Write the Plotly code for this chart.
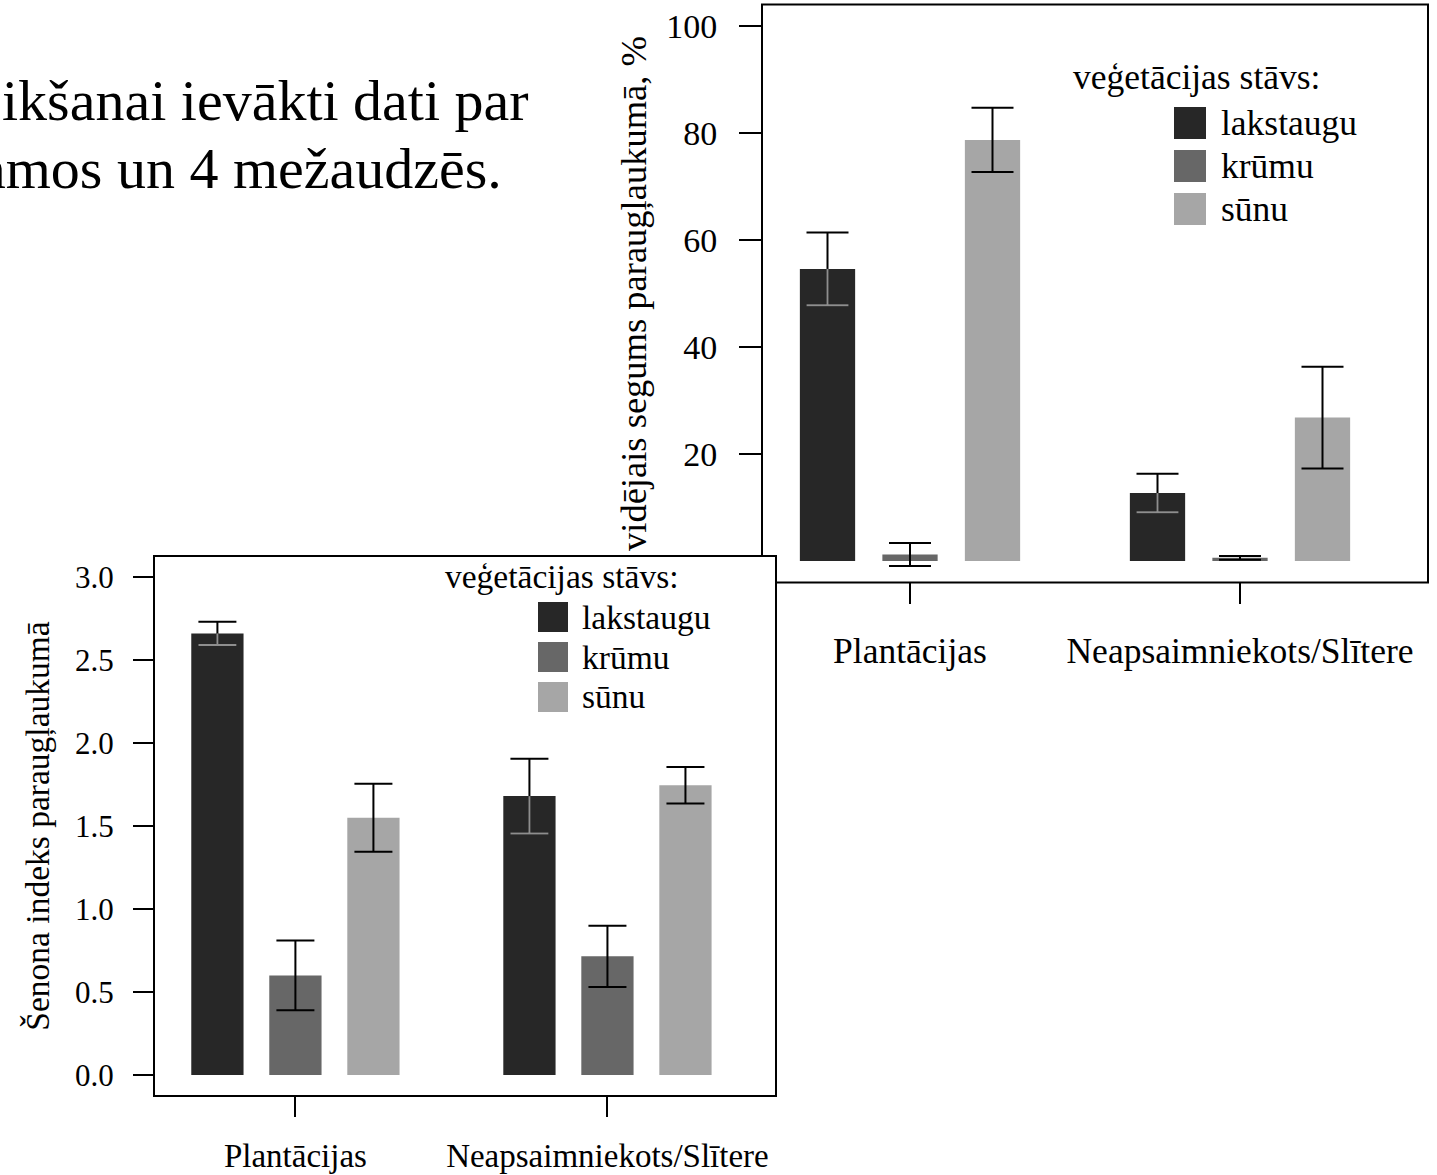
import plotly.graph_objects as go

W, H = 1437, 1175

# ---------------- data ----------------
groups = ["Plantācijas", "Neapsaimniekots/Slītere"]
layers = ["lakstaugu", "krūmu", "sūnu"]

# top-right chart: mean cover (%) and SE
cover_lakstaugu = [54.6, 12.7]
cover_krumu = [1.2, 0.6]
cover_sunu = [78.7, 26.8]
cover_lakstaugu_err = [6.8, 3.6]
cover_krumu_err = [2.15, 0.35]
cover_sunu_err = [6.0, 9.5]
cover_ticks = [20, 40, 60, 80, 100]

# bottom-left chart: Shannon index and SE
shannon_lakstaugu = [2.66, 1.68]
shannon_krumu = [0.60, 0.715]
shannon_sunu = [1.55, 1.745]
shannon_lakstaugu_err = [0.07, 0.225]
shannon_krumu_err = [0.21, 0.185]
shannon_sunu_err = [0.205, 0.11]
shannon_ticks = [0.0, 0.5, 1.0, 1.5, 2.0, 2.5, 3.0]

colors = ["#272727", "#676767", "#a6a6a6"]
GREY_ERR = "#8e8e8e"
FONT = "Liberation Serif, Times New Roman, serif"


def px(x):
    return x / W


def py(y):
    return 1 - y / H


fig = go.Figure()


def add_chart(xa, ya, means, errs, cap):
    for name, m, e, col in zip(layers, means, errs, colors):
        fig.add_trace(go.Bar(
            x=groups, y=m, name=name, offsetgroup=name,
            marker=dict(color=col, line=dict(width=0)),
            xaxis=xa, yaxis=ya, showlegend=False,
            error_y=dict(type="data", array=e, visible=True, color="black",
                         thickness=2, width=cap)))
    # lower half of the lakstaugu error bars appears grey (inside the dark bar)
    m0, e0 = means[0], errs[0]
    fig.add_trace(go.Bar(
        x=groups, y=m0, offsetgroup=layers[0],
        marker=dict(color="rgba(0,0,0,0)", line=dict(width=0)),
        xaxis=xa, yaxis=ya, showlegend=False, hoverinfo="skip",
        error_y=dict(type="data", symmetric=False, array=[0] * len(groups),
                     arrayminus=e0, visible=True, color=GREY_ERR,
                     thickness=2, width=0)))
    fig.add_trace(go.Bar(
        x=groups, y=[m - e for m, e in zip(m0, e0)], offsetgroup=layers[0],
        marker=dict(color="rgba(0,0,0,0)", line=dict(width=0)),
        xaxis=xa, yaxis=ya, showlegend=False, hoverinfo="skip",
        error_y=dict(type="data", array=[0] * len(groups), visible=True,
                     color=GREY_ERR, thickness=2, width=cap)))


add_chart("x", "y",
          [cover_lakstaugu, cover_krumu, cover_sunu],
          [cover_lakstaugu_err, cover_krumu_err, cover_sunu_err], 21)
add_chart("x2", "y2",
          [shannon_lakstaugu, shannon_krumu, shannon_sunu],
          [shannon_lakstaugu_err, shannon_krumu_err, shannon_sunu_err], 19)

fig.update_layout(
    xaxis=dict(domain=[px(762), px(1428)], anchor="y", range=[-0.4485, 1.5697],
               automargin=False, showline=False, showgrid=False, zeroline=False,
               ticks="outside", ticklen=21, tickwidth=2, tickcolor="black",
               ticklabelstandoff=16,
               tickfont=dict(family=FONT, size=35.5, color="black")),
    yaxis=dict(domain=[py(582.4), py(4.6)], anchor="x", range=[-4, 104],
               tickvals=cover_ticks, automargin=False,
               showline=False, showgrid=False, zeroline=False,
               ticks="outside", ticklen=22, tickwidth=2, tickcolor="black",
               ticklabelstandoff=15,
               tickfont=dict(family=FONT, size=34, color="black"),
               title=dict(text="vidējais segums paraugļaukumā, %", standoff=8,
                          font=dict(family=FONT, size=36.5, color="black"))),
    xaxis2=dict(domain=[px(155), px(775)], anchor="y2", range=[-0.45, 1.537],
                automargin=False,
                showline=True, mirror=True, linecolor="black", linewidth=2,
                showgrid=False, zeroline=False,
                ticks="outside", ticklen=20, tickwidth=2, tickcolor="black",
                ticklabelstandoff=10,
                tickfont=dict(family=FONT, size=33, color="black")),
    yaxis2=dict(domain=[py(1095), py(557)], anchor="x2", range=[-0.12, 3.12],
                tickvals=shannon_ticks, tickformat=".1f", automargin=False,
                showline=True, mirror=True, linecolor="black", linewidth=2,
                showgrid=False, zeroline=False,
                ticks="outside", ticklen=20, tickwidth=2, tickcolor="black",
                ticklabelstandoff=13,
                tickfont=dict(family=FONT, size=31, color="black"),
                title=dict(text="Šenona indeks paraugļaukumā", standoff=15,
                           font=dict(family=FONT, size=33.5, color="black"))),
)

shapes = []
# frame of the top-right chart (partly hidden behind the bottom-left chart)
shapes.append(dict(
    type="path", xref="paper", yref="paper",
    path=(f"M {px(762)},{py(557)} L {px(762)},{py(4.6)} L {px(1428)},{py(4.6)} "
          f"L {px(1428)},{py(582.4)} L {px(775)},{py(582.4)}"),
    line=dict(color="black", width=2), fillcolor="rgba(0,0,0,0)"))

annotations = []


def legend(title_x, title_y, sw_x0, sw_x1, sw_tops, sw_size, text_x, fs):
    annotations.append(dict(
        xref="paper", yref="paper", x=px(title_x), y=py(title_y),
        xanchor="left", yanchor="middle", showarrow=False,
        text="veģetācijas stāvs:", font=dict(family=FONT, size=fs, color="black")))
    for name, col, top in zip(layers, colors, sw_tops):
        shapes.append(dict(type="rect", xref="paper", yref="paper",
                           x0=px(sw_x0), x1=px(sw_x1), y0=py(top), y1=py(top + sw_size),
                           fillcolor=col, line=dict(width=0)))
        annotations.append(dict(
            xref="paper", yref="paper", x=px(text_x), y=py(top + sw_size / 2),
            xanchor="left", yanchor="middle", showarrow=False,
            text=name, font=dict(family=FONT, size=fs, color="black")))


legend(1071, 77, 1174, 1206, [107, 150, 193], 32, 1219, 35.5)
legend(443, 576, 538, 568, [602, 642, 682], 30, 580, 33.5)

# fragment of slide text at top-left
annotations.append(dict(xref="paper", yref="paper", x=px(0), y=py(100),
                        xanchor="left", yanchor="middle", showarrow=False,
                        text="ikšanai ievākti dati par",
                        font=dict(family=FONT, size=58, color="black")))
annotations.append(dict(xref="paper", yref="paper", x=px(-22), y=py(168),
                        xanchor="left", yanchor="middle", showarrow=False,
                        text="amos un 4 mežaudzēs.",
                        font=dict(family=FONT, size=58, color="black")))

fig.update_layout(
    width=W, height=H, margin=dict(l=0, r=0, t=0, b=0, autoexpand=False),
    paper_bgcolor="white", plot_bgcolor="rgba(0,0,0,0)",
    barmode="group", bargap=0.25, bargroupgap=0.33,
    showlegend=False, shapes=shapes, annotations=annotations,
    font=dict(family=FONT, color="black"),
)

fig.write_html("out.html")
